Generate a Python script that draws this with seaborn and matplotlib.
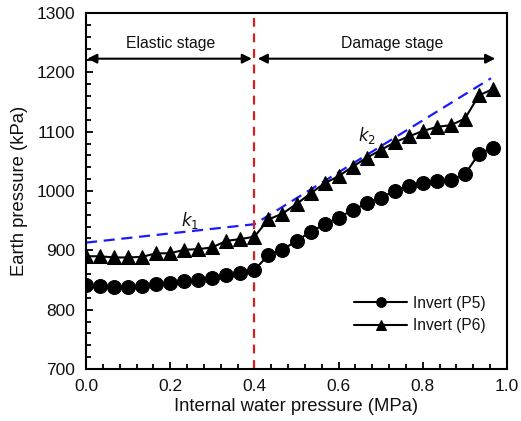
import numpy as np
import pandas as pd
import matplotlib
matplotlib.use("Agg")
import matplotlib.pyplot as plt
import seaborn as sns
from matplotlib.ticker import MultipleLocator

# ---- data ----
pressure = [0.0, 0.0333, 0.0667, 0.1, 0.1333, 0.1667, 0.2, 0.2333, 0.2667, 0.3,
            0.3333, 0.3667, 0.4, 0.4333, 0.4667, 0.5, 0.5333, 0.5667, 0.6, 0.6333,
            0.6667, 0.7, 0.7333, 0.7667, 0.8, 0.8333, 0.8667, 0.9, 0.9333, 0.9667]
p5 = [842, 840, 839, 839, 840, 844, 845, 848, 850, 853,
      859, 862, 867, 892, 901, 916, 931, 944, 955, 968,
      979, 989, 1000, 1009, 1014, 1017, 1019, 1028, 1063, 1073]
p6 = [890, 890, 888, 888, 889, 895, 895, 901, 902, 905,
      916, 919, 923, 952, 962, 978, 996, 1013, 1025, 1041,
      1056, 1069, 1082, 1092, 1101, 1108, 1111, 1122, 1161, 1172]
fit_x = [0.0, 0.4, 0.962]
fit_y = [913, 944, 1190]
series_labels = ["Invert (P5)", "Invert (P6)"]
stage_labels = ["Elastic stage", "Damage stage"]
boundary = 0.4

sns.set_style("ticks")
plt.rcParams['font.family'] = ['Liberation Sans', 'DejaVu Sans']
plt.rcParams['text.color'] = '#111111'
plt.rcParams['axes.labelcolor'] = '#111111'

fig = plt.figure(figsize=(5.21, 4.21), dpi=100)
ax = fig.add_axes([86/521, 1-369/421, (507-86)/521, (369-13)/421])

df = pd.DataFrame({"x": pressure, "P5": p5, "P6": p6})
sns.lineplot(data=df, x="x", y="P5", ax=ax, color="black", marker="o",
             markersize=10, linewidth=1.5, markeredgecolor="black",
             label=series_labels[0])
sns.lineplot(data=df, x="x", y="P6", ax=ax, color="black", marker="^",
             markersize=10, linewidth=1.5, markeredgecolor="black",
             label=series_labels[1])

ax.plot(fit_x, fit_y, color="#1a1aff", linestyle=(0, (5, 3)), linewidth=1.6, zorder=1)
ax.axvline(boundary, color="#d42020", linestyle=(0, (4, 3)), linewidth=1.6, zorder=1)

ax.set_xlim(0, 1.0)
ax.set_ylim(700, 1300)
ax.xaxis.set_major_locator(MultipleLocator(0.2))
ax.xaxis.set_minor_locator(MultipleLocator(0.04))
ax.yaxis.set_major_locator(MultipleLocator(100))
ax.yaxis.set_minor_locator(MultipleLocator(20))
ax.xaxis.set_major_formatter(matplotlib.ticker.FormatStrFormatter('%.1f'))
ax.tick_params(which="both", direction="in", top=False, right=False, width=1.3,
               labelsize=12.5, colors="black", labelcolor="#111111")
ax.tick_params(which="major", length=5)
ax.tick_params(which="minor", length=3.5)
ax.tick_params(axis="y", which="major", pad=8)
ax.tick_params(axis="x", which="major", pad=7)
for s in ax.spines.values():
    s.set_linewidth(1.5)
    s.set_color("black")
    s.set_visible(True)

ax.set_xlabel("Internal water pressure (MPa)", fontsize=13.3, labelpad=3)
ax.set_ylabel("Earth pressure (kPa)", fontsize=13.3, labelpad=6)

# stage arrows
ay = 1223
ax.annotate("", xy=(0.003, ay), xytext=(boundary - 0.006, ay),
            arrowprops=dict(arrowstyle="<|-|>", color="black", lw=1.5,
                            mutation_scale=14, shrinkA=0, shrinkB=0))
ax.annotate("", xy=(boundary + 0.008, ay), xytext=(0.972, ay),
            arrowprops=dict(arrowstyle="<|-|>", color="black", lw=1.5,
                            mutation_scale=14, shrinkA=0, shrinkB=0))
ax.text(0.2, 1248, stage_labels[0], ha="center", va="center", fontsize=11.3)
ax.text(0.727, 1248, stage_labels[1], ha="center", va="center", fontsize=11.3)

ax.text(0.247, 951, r"$\mathit{k}_1$", ha="center", va="center", fontsize=12)
ax.text(0.667, 1094, r"$\mathit{k}_2$", ha="center", va="center", fontsize=12)

leg = ax.legend(loc="center left", bbox_to_anchor=(0.637, 0.153), frameon=False,
                fontsize=11.2, handlelength=3.4, handletextpad=0.4,
                borderpad=0, borderaxespad=0, labelspacing=0.5)
for h in leg.legend_handles:
    h.set_markersize(7)

fig.savefig("out.png", dpi=100)
